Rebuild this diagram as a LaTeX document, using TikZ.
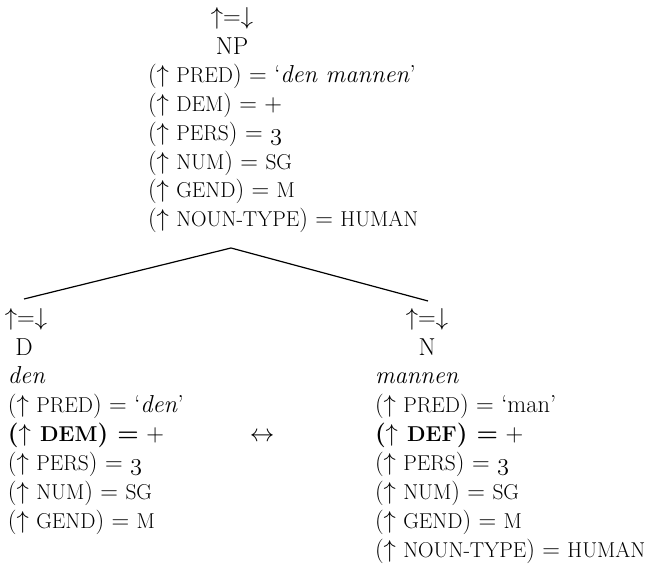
\RequirePackage{fix-cm}
\documentclass[tikz,border=0pt]{standalone}
\usepackage{fontspec}
\newcommand\smc[1]{{\fontsize{21.5}{29}\selectfont #1}}
\newcommand\upa{$\uparrow$}
\newcommand\thr{{\usefont{OML}{cmm}{m}{it}3}}
\tikzset{
  every node/.style={inner sep=0pt, outer sep=0pt, font=\fontsize{24.5}{29}\selectfont},
  ln/.style={anchor=base west},
  ctr/.style={anchor=base},
  branch/.style={line width=1.2pt}
}
\begin{document}
\begin{tikzpicture}[x=1pt,y=1pt]
\useasboundingbox (0,0) rectangle (646,572);
% top NP
\node[ctr] (npann) at (232,547) {$\uparrow$=$\downarrow$};
\node[ctr] (np) at (232,517) {NP};
\node[ln] (np1) at (148,489) {(\upa\ \smc{PRED}) = `\textit{den mannen}'};
\node[ln] (np2) at (148,460) {(\upa\ \smc{DEM}) = +};
\node[ln] (np3) at (148,431) {(\upa\ \smc{PERS}) = \thr};
\node[ln] (np4) at (148,402) {(\upa\ \smc{NUM}) = \smc{SG}};
\node[ln] (np5) at (148,374) {(\upa\ \smc{GEND}) = \smc{M}};
\node[ln] (np6) at (148,345) {(\upa\ \smc{NOUN-TYPE}) = \smc{HUMAN}};
% D
\node[anchor=base west] (dann) at (5,246) {$\uparrow$=$\downarrow$};
\node[ctr] (d) at (24,216) {D};
\node[ln] (d0) at (8,188) {\textit{den}};
\node[ln] (d1) at (8,159) {(\upa\ \smc{PRED}) = `\textit{den}'};
\node[ln] (d2) at (8,130) {\textbf{(\upa\ \smc{DEM}) =} +};
\node[ln] (d3) at (8,101) {(\upa\ \smc{PERS}) = \thr};
\node[ln] (d4) at (8,72) {(\upa\ \smc{NUM}) = \smc{SG}};
\node[ln] (d5) at (8,43) {(\upa\ \smc{GEND}) = \smc{M}};
% N
\node[ctr] (nann) at (427,246) {$\uparrow$=$\downarrow$};
\node[ctr] (n) at (427,216) {N};
\node[ln] (n0) at (375,188) {\textit{mannen}};
\node[ln] (n1) at (375,159) {(\upa\ \smc{PRED}) = `man'};
\node[ln] (n2) at (375,130) {\textbf{(\upa\ \smc{DEF}) =} +};
\node[ln] (n3) at (375,101) {(\upa\ \smc{PERS}) = \thr};
\node[ln] (n4) at (375,72) {(\upa\ \smc{NUM}) = \smc{SG}};
\node[ln] (n5) at (375,43) {(\upa\ \smc{GEND}) = \smc{M}};
\node[ln] (n6) at (375,14) {(\upa\ \smc{NOUN-TYPE}) = \smc{HUMAN}};
% double arrow
\node[ctr] (rel) at (262,130) {$\leftrightarrow$};
% branches
\coordinate (apex) at (231,324);
\coordinate (dtop) at (24,273);
\coordinate (ntop) at (428,271);
\draw[branch] (dtop) -- (apex) -- (ntop);
\end{tikzpicture}
\end{document}
